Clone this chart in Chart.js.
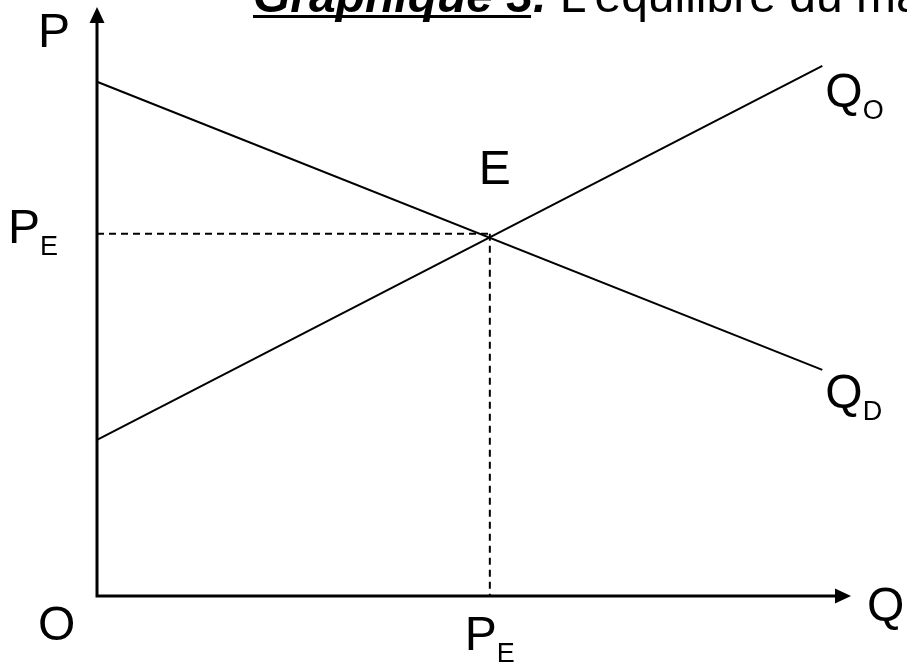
<!DOCTYPE html>
<html>
<head>
<meta charset="utf-8">
<script src="https://cdn.jsdelivr.net/npm/chart.js@4.4.1/dist/chart.umd.min.js"></script>
<style>
  html, body { margin: 0; padding: 0; background: #fff; }
  #wrap { width: 907px; height: 663px; }
</style>
</head>
<body>
<div id="wrap"><canvas id="marketChart" width="907" height="663"></canvas></div>
<script>
// quantity (x) and price (y) values, axis runs 0..100
var demandQ = [0, 96.2];
var demandP = [87.3, 38.4];
var supplyQ = [0, 96.2];
var supplyP = [26.5, 90.0];
var equilibriumQ = 52.1;
var equilibriumP = 61.5;

var titleBold = 'Graphique 3.';
var titleRest = ' L\u2019équilibre du marché';

function pts(xs, ys) {
    return xs.map(function (x, i) { return { x: x, y: ys[i] }; });
}

var FONT = '"Liberation Sans", Arial, sans-serif';

// draws axes with arrows, the title and the letter labels
var decorPlugin = {
    id: 'decor',
    afterDatasetsDraw: function (chart) {
        var ctx = chart.ctx;
        var xs = chart.scales.x, ys = chart.scales.y;
        var x0 = xs.getPixelForValue(0), x1 = xs.getPixelForValue(100);
        var y0 = ys.getPixelForValue(0), y1 = ys.getPixelForValue(100);
        ctx.save();
        ctx.strokeStyle = '#000';
        ctx.fillStyle = '#000';
        ctx.lineWidth = 3;
        ctx.beginPath();
        ctx.moveTo(x0, y0 + 1.5);
        ctx.lineTo(x0, y1 + 14);
        ctx.moveTo(x0 - 1.5, y0);
        ctx.lineTo(x1 - 14, y0);
        ctx.stroke();
        // arrow heads
        ctx.beginPath();
        ctx.moveTo(x0, y1);
        ctx.lineTo(x0 - 7.5, y1 + 16);
        ctx.lineTo(x0 + 7.5, y1 + 16);
        ctx.closePath();
        ctx.fill();
        ctx.beginPath();
        ctx.moveTo(x1, y0);
        ctx.lineTo(x1 - 16, y0 - 7.5);
        ctx.lineTo(x1 - 16, y0 + 7.5);
        ctx.closePath();
        ctx.fill();

        var eX = xs.getPixelForValue(equilibriumQ);
        var eY = ys.getPixelForValue(equilibriumP);
        var dEndX = xs.getPixelForValue(demandQ[1]);
        var dEndY = ys.getPixelForValue(demandP[1]);
        var sEndY = ys.getPixelForValue(supplyP[1]);

        function label(main, sub, x, y, align) {
            ctx.textAlign = 'left';
            ctx.textBaseline = 'alphabetic';
            ctx.font = '48px ' + FONT;
            var w = ctx.measureText(main).width;
            var sw = 0;
            if (sub) {
                ctx.font = '27px ' + FONT;
                sw = ctx.measureText(sub).width;
            }
            var sx = x;
            if (align === 'center') sx = x - (w + sw) / 2;
            ctx.font = '48px ' + FONT;
            ctx.fillText(main, sx, y);
            if (sub) {
                ctx.font = '27px ' + FONT;
                ctx.fillText(sub, sx + w, y + 12);
            }
        }

        label('P', null, x0 - 59, y1 + 40);
        label('P', 'E', 8, eY + 9);
        label('O', null, 38, y0 + 44);
        label('Q', null, x1 + 16, y0 + 25);
        label('P', 'E', eX, y0 + 54, 'center');
        label('E', null, eX + 5, eY - 50, 'center');
        label('Q', 'O', dEndX + 3, sEndY + 41);
        label('Q', 'D', dEndX + 3, dEndY + 38);

        // title, cut by the top edge
        ctx.font = 'italic bold 48px ' + FONT;
        var tx = 253, ty = 12;
        ctx.fillText(titleBold, tx, ty);
        var bw = ctx.measureText(titleBold).width;
        var dotW = ctx.measureText('.').width;
        ctx.fillRect(tx, ty + 3, bw - dotW - 2, 3);
        ctx.font = '48px ' + FONT;
        ctx.fillText(titleRest, tx + bw, ty);
        ctx.restore();
    }
};

var ctx = document.getElementById('marketChart').getContext('2d');
var chart = new Chart(ctx, {
    type: 'scatter',
    data: {
        datasets: [{
            label: 'Demande',
            data: pts(demandQ, demandP),
            showLine: true,
            borderColor: '#000',
            borderWidth: 2,
            pointRadius: 0,
            clip: false
        }, {
            label: 'Offre',
            data: pts(supplyQ, supplyP),
            showLine: true,
            borderColor: '#000',
            borderWidth: 2,
            pointRadius: 0,
            clip: false
        }, {
            label: 'PE prix',
            data: [{ x: 0, y: equilibriumP }, { x: equilibriumQ, y: equilibriumP }],
            showLine: true,
            borderColor: '#000',
            borderWidth: 2,
            borderDash: [7, 5],
            pointRadius: 0,
            clip: false
        }, {
            label: 'PE quantité',
            data: [{ x: equilibriumQ, y: equilibriumP }, { x: equilibriumQ, y: 0 }],
            showLine: true,
            borderColor: '#000',
            borderWidth: 2,
            borderDash: [7, 5],
            pointRadius: 0,
            clip: false
        }]
    },
    options: {
        responsive: false,
        animation: false,
        layout: { padding: { left: 97, right: 56, top: 7, bottom: 67 } },
        plugins: {
            legend: { display: false },
            tooltip: { enabled: false },
            title: { display: false }
        },
        scales: {
            x: { type: 'linear', min: 0, max: 100, display: false },
            y: { type: 'linear', min: 0, max: 100, display: false }
        }
    },
    plugins: [decorPlugin]
});
</script>
</body>
</html>
